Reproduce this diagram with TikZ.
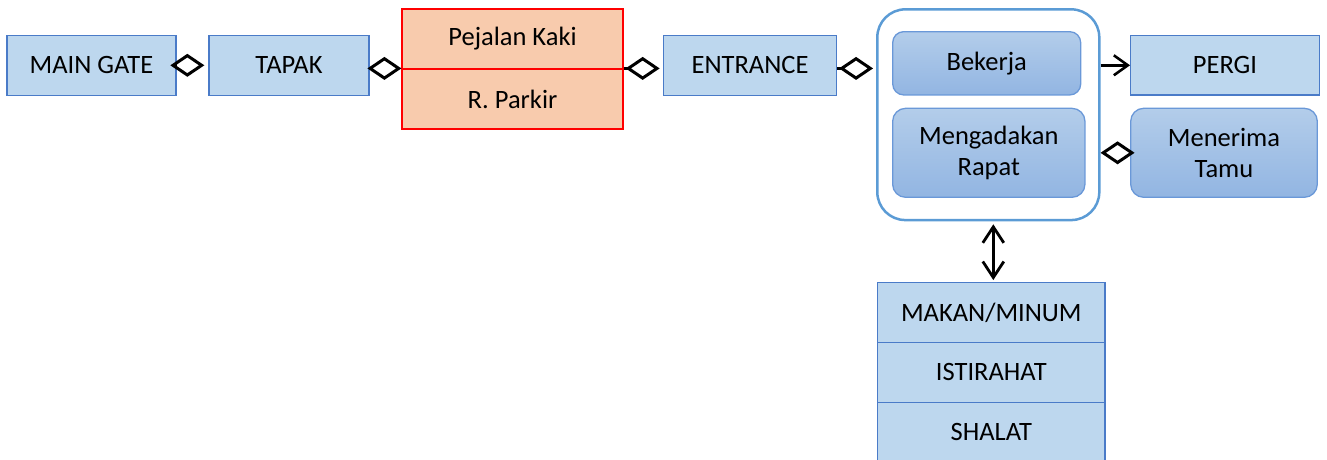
\documentclass[tikz,border=0pt]{standalone}
\usepackage{fontspec}
\setmainfont{Carlito}
\usetikzlibrary{arrows.meta,calc}
\definecolor{boxfill}{HTML}{BDD7EE}
\definecolor{boxline}{HTML}{4A7BC8}
\definecolor{roundtop}{HTML}{B3CDEA}
\definecolor{roundbot}{HTML}{92B5E2}
\definecolor{roundline}{HTML}{6A98D8}
\definecolor{frameline}{HTML}{5B9BD5}
\definecolor{zonefill}{HTML}{F8CBAD}
\begin{document}
\begin{tikzpicture}[x=1pt,y=-1pt,
  every node/.style={font=\fontsize{26.5}{31}\selectfont, inner sep=0pt, align=center},
  flat/.style={draw=boxline, fill=boxfill, line width=1.3pt},
  soft/.style={draw=roundline, line width=1.3pt, top color=roundtop, bottom color=roundbot, rounded corners=11pt},
  zone/.style={draw=red, fill=zonefill, line width=1.2pt},
  dia/.style={line width=2.8pt, -{Diamond[open,length=34pt,width=23pt,line width=3pt]}},
  barb/.style={line width=2.6pt, -{Straight Barb[length=14pt,width=20pt,line width=2.6pt]}},
  twobarb/.style={line width=2.8pt, {Straight Barb[length=16pt,width=21pt,line width=2.8pt]}-{Straight Barb[length=16pt,width=21pt,line width=2.8pt]}}
]
\useasboundingbox (0,0) rectangle (1327,459);

% left chain
\node[flat, minimum width=169pt, minimum height=60pt] (gate) at (91.5,65.3) {MAIN GATE};
\node[flat, minimum width=160pt, minimum height=60pt] (tapak) at (289,65.3) {TAPAK};
\node[zone, minimum width=221pt, minimum height=60pt] (pejalan) at (512.5,39) {Pejalan Kaki};
\node[zone, minimum width=221pt, minimum height=60pt] (parkir) at (512.5,99) {R. Parkir};
\node[flat, minimum width=173.4pt, minimum height=60pt] (entrance) at (750,65.3) {ENTRANCE};

% activity frame
\node[draw=frameline, line width=2.5pt, rounded corners=28pt, minimum width=222pt, minimum height=210.7pt] (outer) at (988.3,114.7) {};
\node[soft, minimum width=188pt, minimum height=63.3pt] (bekerja) at (986.7,63.3) {Bekerja};
\node[soft, minimum width=192.3pt, minimum height=89pt, rounded corners=13pt] (rapat) at (988.8,152.8) {Mengadakan\\Rapat};

% right side
\node[flat, minimum width=188.6pt, minimum height=59.3pt] (pergi) at (1225,65.3) {PERGI};
\node[soft, minimum width=186.6pt, minimum height=89pt, rounded corners=13pt] (tamu) at (1224,152.8) {Menerima\\Tamu};

% stacked activities
\node[flat, minimum width=227.3pt, minimum height=59.6pt] (makan) at (991.3,312.5) {MAKAN/MINUM};
\node[flat, minimum width=227.3pt, minimum height=60pt] (istirahat) at (991.3,372.3) {ISTIRAHAT};
\node[flat, minimum width=227.3pt, minimum height=60pt] (shalat) at (991.3,432.3) {SHALAT};

% connectors
\draw[dia, shorten >=4pt] (gate.east) -- (tapak.west);
\draw[dia] (tapak.east |- parkir.north) -- (parkir.north west);
\draw[dia, shorten >=3pt] (parkir.north east) -- (parkir.north east -| entrance.west);
\draw[dia, shorten >=3pt] (entrance.east |- parkir.north) -- (parkir.north -| outer.west);
\draw[barb] (outer.east |- pergi.west) -- (pergi.west);
\draw[dia] (tamu.west) -- (tamu.west -| outer.east);
\draw[twobarb, shorten <=3pt, shorten >=2pt] ($(makan.north |- outer.south)+(2,0)$) -- ($(makan.north)+(2,0)$);
\end{tikzpicture}
\end{document}
